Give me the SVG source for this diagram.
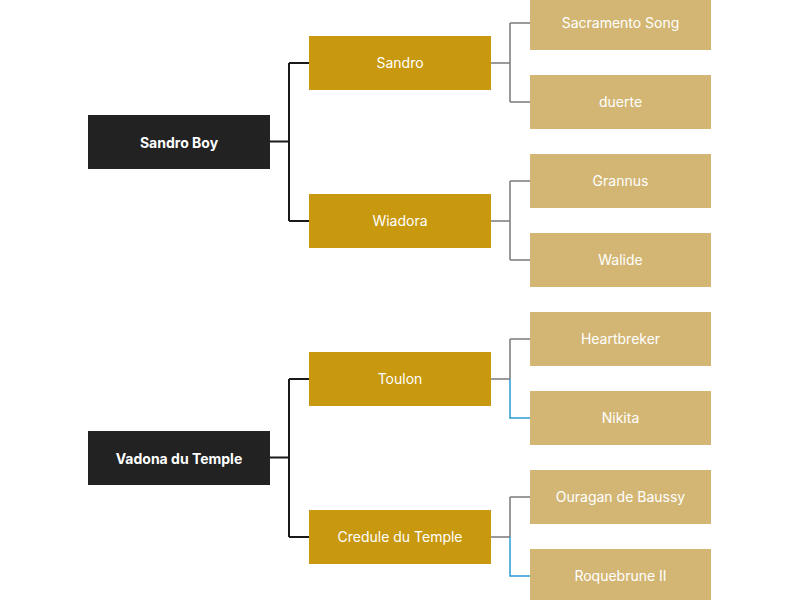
<svg xmlns="http://www.w3.org/2000/svg" width="800" height="600" viewBox="0 0 800 600">
<style>
.root rect{fill:#222222}
.l2 rect{fill:#c8980e}
.l3 rect{fill:#d3b673}
text{font-family:Inter,"Open Sans","Liberation Sans",sans-serif;font-size:14px;fill:#ffffff;text-anchor:middle;dominant-baseline:central}
.root text{font-weight:bold}
.c1{stroke:#1a1a1a;stroke-width:2;fill:none}
.c2{stroke:#7a7a7a;stroke-width:1.5;fill:none}
.c3{stroke:#2a9bd6;stroke-width:1.5;fill:none}
</style>
<rect width="800" height="600" fill="#ffffff"/>
<g id="connectors">
<path class="c1" d="M270 141.5H289M289 63V221M289 63H309M289 221H309"/>
<path class="c1" d="M270 457.5H289M289 379V537M289 379H309M289 537H309"/>
<path class="c2" d="M491 63H510M510 23V102M510 23H530M510 102H530"/>
<path class="c2" d="M491 221H510M510 181V260M510 181H530M510 260H530"/>
<path class="c2" d="M491 379H510M510 339V379M510 339H530"/>
<path class="c3" d="M510 379V418H530"/>
<path class="c2" d="M491 537H510M510 497V537M510 497H530"/>
<path class="c3" d="M510 537V576H530"/>
</g>
<g id="n-sandro-boy" class="root"><rect x="88" y="115" width="182" height="54"/><text x="179" y="142">Sandro Boy</text></g>
<g id="n-vadona" class="root"><rect x="88" y="431" width="182" height="54"/><text x="179" y="458">Vadona du Temple</text></g>
<g id="n-sandro" class="l2"><rect x="309" y="36" width="182" height="54"/><text x="400" y="62">Sandro</text></g>
<g id="n-wiadora" class="l2"><rect x="309" y="194" width="182" height="54"/><text x="400" y="220">Wiadora</text></g>
<g id="n-toulon" class="l2"><rect x="309" y="352" width="182" height="54"/><text x="400" y="378">Toulon</text></g>
<g id="n-credule" class="l2"><rect x="309" y="510" width="182" height="54"/><text x="400" y="536">Credule du Temple</text></g>
<g id="n-sacramento" class="l3"><rect x="530" y="-4" width="181" height="54"/><text x="620.5" y="22">Sacramento Song</text></g>
<g id="n-duerte" class="l3"><rect x="530" y="75" width="181" height="54"/><text x="620.5" y="101">duerte</text></g>
<g id="n-grannus" class="l3"><rect x="530" y="154" width="181" height="54"/><text x="620.5" y="180">Grannus</text></g>
<g id="n-walide" class="l3"><rect x="530" y="233" width="181" height="54"/><text x="620.5" y="259">Walide</text></g>
<g id="n-heartbreker" class="l3"><rect x="530" y="312" width="181" height="54"/><text x="620.5" y="338">Heartbreker</text></g>
<g id="n-nikita" class="l3"><rect x="530" y="391" width="181" height="54"/><text x="620.5" y="417">Nikita</text></g>
<g id="n-ouragan" class="l3"><rect x="530" y="470" width="181" height="54"/><text x="620.5" y="496">Ouragan de Baussy</text></g>
<g id="n-roquebrune" class="l3"><rect x="530" y="549" width="181" height="54"/><text x="620.5" y="575">Roquebrune II</text></g>
</svg>
